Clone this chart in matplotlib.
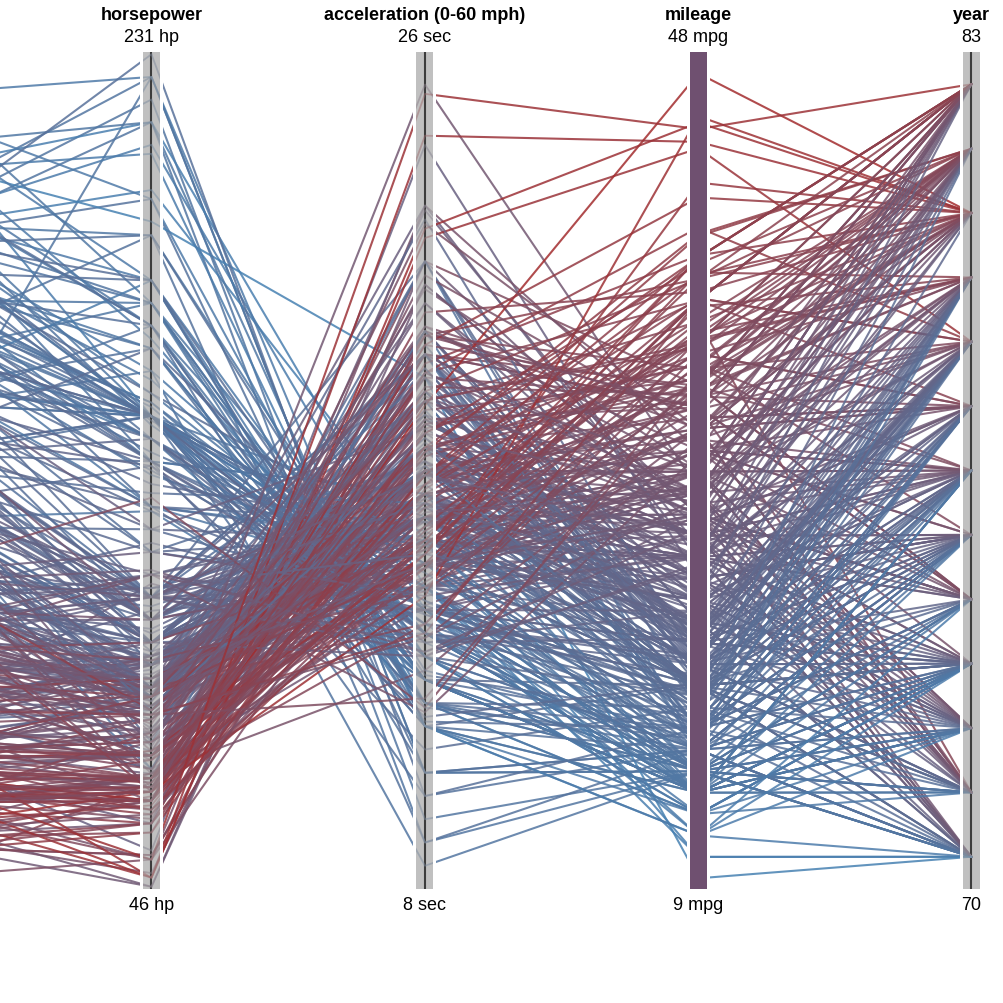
import matplotlib
matplotlib.use("Agg")
import matplotlib.pyplot as plt
from matplotlib.patches import Rectangle
import numpy as np

plt.rcParams["font.family"] = ["Liberation Sans", "DejaVu Sans"]

# cars, one row per model, in model year order
mpg = [18,15,18,16,17,15,14,14,14,15,15,14,15,14,24,22,18,21,27,26,25,24,25,26,21,10,10,11,9,
       27,28,25,19,16,17,19,18,14,14,14,14,12,13,13,18,22,19,18,23,28,30,30,31,35,27,26,
       24,25,23,20,21,13,14,15,14,17,11,13,12,13,19,15,13,13,14,18,22,21,26,22,28,23,28,27,
       13,14,13,14,15,12,13,13,14,13,12,13,18,16,18,18,23,26,11,12,13,12,18,20,21,22,18,19,21,26,15,16,29,24,20,19,15,24,20,
       11,20,19,15,31,26,32,25,16,16,18,16,13,14,14,14,29,26,26,31,32,28,24,26,24,
       19,18,15,15,16,15,16,14,17,16,15,18,21,20,13,29,23,20,23,24,25,24,18,29,19,23,23,22,25,33,
       28,25,25,26,27,17.5,16,15.5,14.5,22,22,24,22.5,29,24.5,29,33,20,18,18.5,17.5,29.5,32,28,26.5,20,13,19,19,16.5,16.5,13,13,13,
       31.5,30,36,25.5,33.5,17.5,17,15.5,15,17.5,20.5,19,18.5,16,15.5,15.5,16,29,24.5,26,25.5,30.5,33.5,30,30.5,22,21.5,21.5,
       43.1,36.1,32.8,39.4,36.1,19.9,19.4,20.2,19.2,20.5,20.2,25.1,20.5,19.4,20.6,20.8,18.6,18.1,19.2,17.7,18.1,17.5,30,27.5,27.2,30.9,21.1,23.2,23.8,23.9,20.3,17,21.6,16.2,31.5,29.5,
       21.5,19.8,22.3,20.2,20.6,17,17.6,16.5,18.2,16.9,15.5,19.2,18.5,31.9,34.1,35.7,27.4,25.4,23,27.2,23.9,34.2,34.5,31.8,37.3,28.4,28.8,26.8,33.5,
       41.5,38.1,32.1,37.2,28,26.4,24.3,19.1,34.3,29.8,31.3,37,32.2,46.6,27.9,40.8,44.3,43.4,36.4,30,44.6,33.8,29.8,32.7,23.7,35,32.4,
       27.2,26.6,25.8,23.5,30,39.1,39,35.1,32.3,37,37.7,34.1,34.7,34.4,29.9,33,33.7,32.4,32.9,31.6,28.1,30.7,25.4,24.2,22.4,26.6,20.2,17.6,
       28,27,34,31,29,27,24,36,37,31,38,36,36,36,34,38,32,38,25,38,26,22,32,36,27,27,44,32,28,31]
hp = [130,165,150,150,140,198,220,215,225,190,170,160,150,225,95,95,97,85,88,46,87,90,95,113,90,215,200,210,193,
      88,90,95,100,105,100,88,100,165,175,153,150,180,170,175,110,72,100,88,86,90,70,76,65,69,60,70,
      95,80,54,90,86,165,175,150,153,150,208,155,160,190,97,150,130,140,150,112,76,87,69,86,92,97,80,88,
      175,150,145,137,150,198,150,158,150,215,225,175,105,100,100,88,95,46,150,167,170,180,100,88,72,94,90,85,107,90,145,230,49,75,91,112,150,110,122,
      180,95,100,100,67,80,65,75,100,110,105,140,150,150,140,150,83,67,78,52,61,75,75,97,93,
      95,105,72,72,170,145,150,148,110,105,110,95,110,110,129,75,83,100,78,96,71,97,97,70,90,95,88,98,115,53,
      86,81,92,79,83,140,150,120,152,100,105,81,90,52,60,70,53,100,78,110,95,71,70,75,72,102,150,88,108,120,180,145,130,150,
      68,80,58,96,70,145,110,145,130,110,105,100,98,180,170,190,149,78,88,75,89,63,83,67,78,97,110,110,
      48,66,52,70,60,110,140,139,105,95,85,88,100,90,105,85,110,120,145,165,139,140,68,95,97,75,95,105,85,97,103,125,115,133,71,68,
      115,85,88,90,110,130,129,138,135,155,142,125,150,71,65,80,80,77,125,71,90,70,70,65,69,90,115,115,90,
      76,60,70,65,90,88,90,90,78,90,75,92,75,65,105,65,48,48,67,67,67,67,62,132,100,88,72,
      84,84,92,110,84,58,64,60,67,65,62,68,63,65,65,74,75,75,100,74,80,76,116,120,110,105,88,85,
      88,88,88,85,84,90,92,74,68,68,63,70,88,75,70,67,67,67,110,85,92,112,96,84,90,86,52,84,79,82]
weight = [3504,3693,3436,3433,3449,4341,4354,4312,4425,3850,3563,3609,3761,3086,2372,2833,2774,2587,2130,1835,2672,2430,2375,2234,2648,4615,4376,4382,4732,
          2130,2264,2228,2634,3439,3329,3302,3288,4209,4464,4154,4096,4955,4746,5140,2962,2408,3282,3139,2220,2123,2074,2065,1773,1613,1834,1955,
          2278,2126,2254,2408,2226,4274,4385,4135,4129,3672,4633,4502,4456,4422,2330,3892,4098,4294,4077,2933,2511,2979,2189,2395,2288,2506,2164,2100,
          4100,3672,3988,4042,3777,4952,4464,4363,4237,4735,4951,3821,3121,3278,2945,3021,2904,1950,4997,4906,4654,4499,2789,2279,2401,2379,2124,2310,2472,2265,4082,4278,1867,2158,2582,2868,3399,2660,2807,
          3664,3102,2901,3336,1950,2451,1836,2542,3781,3632,3613,4141,4699,4457,4638,4257,2219,1963,2300,1649,2003,2125,2108,2246,2489,
          3264,3459,3432,3158,4668,4440,4498,4657,3907,3897,3730,3785,3039,3221,3169,2171,2639,2914,2592,2702,2223,2545,2984,1937,3211,2694,2957,2945,2671,1795,
          2464,2220,2572,2255,2202,4215,4190,3962,4215,3233,3353,3012,3085,2035,2164,1937,1795,3651,3574,3645,3193,1825,1990,2155,2565,3150,3940,3270,2930,3820,4380,4055,3870,3755,
          2045,2155,1825,2300,1945,3880,4060,4140,4295,3520,3425,3630,3525,4220,4165,4325,4335,1940,2740,2265,2755,2051,2075,1985,2190,2815,2600,2720,
          1985,1800,1985,2070,1800,3365,3735,3570,3535,3155,2965,2720,3430,3210,3380,3070,3620,3410,3425,3445,3205,4080,2155,2560,2300,2230,2515,2745,2855,2405,2830,3140,2795,3410,1990,2135,
          3245,2990,2890,3265,3360,3840,3725,3955,3830,4360,4054,3605,3940,1925,1975,1915,2670,3530,3900,3190,3420,2200,2150,2020,2130,2670,2595,2700,2556,
          2144,1968,2120,2019,2678,2870,3003,3381,2188,2711,2542,2434,2265,2110,2800,2110,2085,2335,2950,3250,1850,2145,1845,2910,2420,2500,2290,
          2490,2635,2620,2725,2385,1755,1875,1760,2065,1975,2050,1985,2215,2045,2380,2190,2210,2350,2615,2635,3230,3160,2900,2930,3415,3725,3060,3465,
          2605,2640,2395,2575,2525,2735,2865,1980,2025,2970,2125,2125,2160,2205,2245,1965,1965,1995,2945,3015,2585,2835,2665,2370,2950,2790,2130,2295,2625,2720]
accel = [12,11.5,11,12,10.5,10,9,8.5,10,8.5,10,8,9.5,10,15,15.5,15.5,16,14.5,20.5,17.5,14.5,17.5,12.5,15,14,15,13.5,18.5,
         14.5,15.5,14,13,15.5,15.5,15.5,15.5,12,11.5,13.5,13,11.5,12,12,13.5,19,15,14.5,14,14,19.5,14.5,19,18,19,20.5,
         15.5,17,23.5,19.5,16.5,12,12,13.5,13,11.5,11,13.5,13.5,12.5,13.5,12.5,14,16,14,14.5,18,19.5,18,16,17,14.5,15,16.5,
         13,11.5,13,14.5,12.5,11.5,12,13,14.5,11,11,11,16.5,18,16,16.5,16,21,14,12.5,13,12.5,15,19,19.5,16.5,13.5,18.5,14,15.5,13,9.5,19.5,15.5,14,15.5,11,14,13.5,
         11,16.5,16,17,19,16.5,21,17,17,18,16.5,14,14.5,13.5,16,15.5,16.5,15.5,14.5,16.5,19,14.5,15.5,14,15,
         16,16,21,19.5,11.5,14,14.5,13.5,21,18.5,19,19,15,13.5,12,16,17,16,18.5,13.5,16.5,17,14.5,14,17,15,17,14.5,13.5,17.5,
         15.5,16.9,14.9,17.7,15.3,13,13,13.9,12.8,15.4,14.5,17.6,17.6,22.2,22.1,14.2,17.4,17.7,21,16.2,17.8,12.2,17,16.4,13.6,15.7,13.2,21.9,15.5,16.7,12.1,12,15,14,
         18.5,14.8,18.6,15.5,16.8,12.5,19,13.7,14.9,16.4,16.9,17.7,19,11.1,11.4,12.2,14.5,14.5,16,18.2,15.8,17,15.9,16.4,14.1,14.5,12.8,13.5,
         21.5,14.4,19.4,18.6,16.4,15.5,13.2,12.8,19.2,18.2,15.8,15.4,17.2,17.2,15.8,16.7,18.7,15.1,13.2,13.4,11.2,13.7,16.5,14.2,14.7,14.5,14.8,16.7,17.6,14.9,15.9,13.6,15.7,15.8,14.9,16.6,
         15.4,18.2,17.3,18.2,16.6,15.4,13.4,13.2,15.2,14.9,14.3,15,13,14,15.2,14.4,15,20.1,17.4,24.8,22.2,13.2,14.9,19.2,14.7,16,11.3,12.9,13.2,
         14.7,18.8,15.5,16.4,16.5,18.1,20.1,18.7,15.8,15.5,17.5,15,15.2,17.9,14.4,19.2,21.7,23.7,19.9,21.8,13.8,18,15.3,11.4,12.5,15.1,17,
         15.7,16.4,14.4,12.6,12.9,16.9,16.4,16.1,17.8,19.4,17.3,16,14.9,16.2,20.7,14.2,14.4,16.8,14.8,18.3,20.4,19.6,12.6,13.8,15.8,19,17.1,16.6,
         19.6,18.6,18,16.2,16,18,16.4,15.3,18.2,17.6,14.7,17.3,14.5,14.5,16.9,15,15.7,16.2,16.4,17,14.5,14.7,13.9,13,17.3,15.6,24.6,11.6,18.6,19.4]
year = [70]*29 + [71]*27 + [72]*28 + [73]*39 + [74]*25 + [75]*30 + [76]*34 + [77]*28 + [78]*36 + [79]*29 + [80]*27 + [81]*28 + [82]*30
assert len(mpg) == len(hp) == len(weight) == len(accel) == len(year), (len(mpg), len(hp), len(weight), len(accel), len(year))

titles = ["horsepower", "acceleration (0-60 mph)", "mileage", "year"]
top_labels = ["231 hp", "26 sec", "48 mpg", "83"]
bottom_labels = ["46 hp", "8 sec", "9 mpg", "70"]
domains = [(45.5, 230.5), (7.5, 25.5), (8.5, 47.6), (69.5, 82.5)]
weight_domain = (1612.5, 5140.5)

axis_x = [151.5, 425, 698.5, 971.5]
prev_x = -122
y_top, y_bottom = 53, 890


def to_y(values, domain):
    return y_bottom + (np.asarray(values, dtype=float) - domain[0]) / (domain[1] - domain[0]) * (y_top - y_bottom)


low = np.array(matplotlib.colors.to_rgb("steelblue"))
high = np.array(matplotlib.colors.to_rgb("brown"))

fig = plt.figure(figsize=(10.04, 10.04), dpi=100)
ax = fig.add_axes([0, 0, 1, 1])
ax.set_xlim(0, 1004)
ax.set_ylim(1004, 0)
ax.axis("off")

xs = [prev_x] + axis_x
ys = np.array([to_y(weight, weight_domain), to_y(hp, domains[0]), to_y(accel, domains[1]),
               to_y(mpg, domains[2]), to_y(year, domains[3])])

t = (np.array(mpg) - domains[2][0]) / (domains[2][1] - domains[2][0])
colors = [low + (high - low) * v for v in t]

for i in range(len(mpg)):
    ax.plot(xs, ys[:, i], color=colors[i], lw=1.5, alpha=0.85, zorder=2, solid_joinstyle="miter")

half = 8.5
for k, x in enumerate(axis_x):
    ax.add_patch(Rectangle((x - half - 3, y_top - 2), 2 * half + 6, y_bottom - y_top + 4, fc="white", ec="none", zorder=3))
    band_color = "#6f5070" if k == 2 else "#c0c0c0"
    band = Rectangle((x - half, y_top), 2 * half, y_bottom - y_top, fc=band_color, ec="none", zorder=4)
    ax.add_patch(band)
    if k != 2:
        ax.plot([x, x], [y_top, y_bottom], color="#3c3c3c", lw=1.5, zorder=5, solid_capstyle="butt")
        # washed out lines on the grey band
        for i in range(len(mpg)):
            line, = ax.plot(xs, ys[:, i], color=0.45 * colors[i] + 0.55 * np.array([0.62, 0.62, 0.62]),
                            lw=1.3, alpha=0.5, zorder=6)
            line.set_clip_path(band)

for x, title, top, bottom in zip(axis_x, titles, top_labels, bottom_labels):
    ax.text(x, 16, title, ha="center", va="center", fontsize=13, fontweight="bold", color="black")
    ax.text(x, 38, top, ha="center", va="center", fontsize=13, color="black")
    ax.text(x, 906, bottom, ha="center", va="center", fontsize=13, color="black")

fig.savefig("out.png", dpi=100)
